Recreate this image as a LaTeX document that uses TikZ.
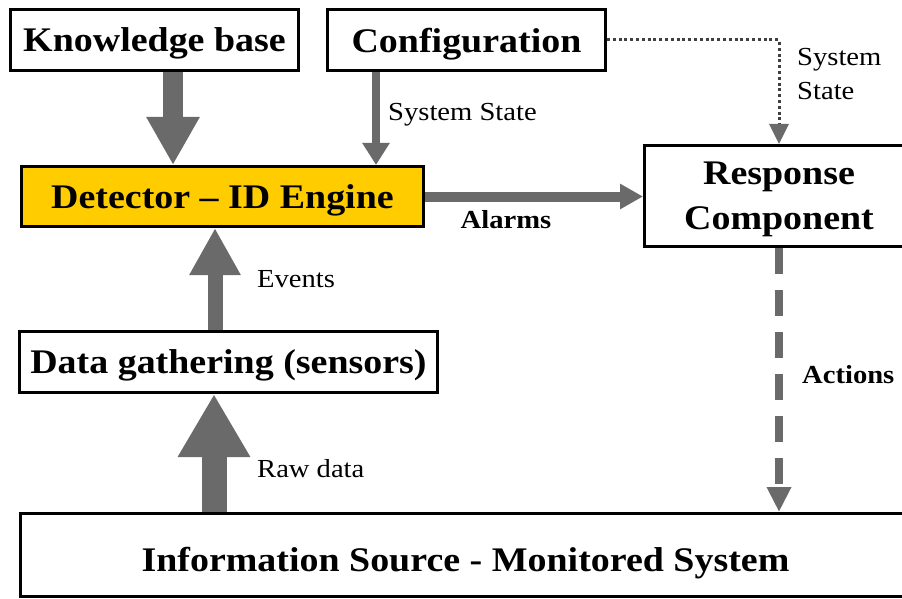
\documentclass[tikz,border=0pt]{standalone}
\usepackage{fontspec}
\setmainfont{Liberation Serif}[FakeStretch=1.1]
\usepackage{tikz}
\usetikzlibrary{arrows.meta}
\definecolor{arrowgray}{RGB}{106,106,106}
\definecolor{enginegold}{RGB}{255,204,0}

\begin{document}
\begin{tikzpicture}[x=1pt,y=-1pt,
        box/.style={draw,line width=3pt,inner sep=2pt,text depth=0pt,align=center,font=\fontsize{34.5}{45}\selectfont\bfseries},
        lbl/.style={inner sep=0pt,align=left,font=\fontsize{26}{34}\selectfont},
        boldlbl/.style={inner sep=0pt,font=\fontsize{26}{34}\selectfont\bfseries},
        flow/.style={draw=arrowgray,line width=#1}]
            \useasboundingbox (0,0) rectangle (902,599);
            % boxes
            \node[box,minimum width=288pt,minimum height=61pt] (kb) at (154.5,40) {Knowledge base};
            \node[box,minimum width=278pt,minimum height=61pt] (conf) at (466.5,40) {Configuration};
            \node[box,fill=enginegold,minimum width=402pt,minimum height=60pt] (det) at (222.5,196.5) {Detector -- ID Engine};
            \node[box,minimum width=269pt,minimum height=101pt] (resp) at (779,196) {Response\\Component};
            \node[box,minimum width=418pt,minimum height=61pt] (dg) at (228.5,362) {Data gathering (sensors)};
            \node[box,text height=33pt,minimum width=890pt,minimum height=83pt] (info) at (465.5,555) {Information Source - Monitored System};
            % arrows
            \coordinate (kbout) at ([xshift=18.5pt]kb.south);
            \coordinate (confout) at ([xshift=-90.5pt]conf.south);
            \coordinate (evout) at ([xshift=-13.5pt]dg.north);
            \coordinate (rawout) at ([xshift=-251.5pt]info.north);
            \draw[flow=20pt,-{Triangle[width=50pt,length=48pt]}] (kbout) -- (kbout |- det.north);
            \draw[flow=8pt,-{Triangle[width=26pt,length=22pt]}] (confout) -- (confout |- det.north);
            \draw[draw=black!75,line width=3pt,dash pattern=on 3pt off 2.8pt,-{Triangle[width=19pt,length=20pt,color=arrowgray]}] (conf.east) -| (resp.north);
            \draw[flow=10pt,-{Triangle[width=24pt,length=23pt]}] (det.east) -- (det.east -| resp.west);
            \draw[flow=8pt,dash pattern=on 26pt off 16pt,-{Triangle[width=23pt,length=25pt]}] (resp.south) -- (resp.south |- info.north);
            \draw[flow=15pt,-{Triangle[width=48pt,length=47pt]}] (evout) -- (evout |- det.south);
            \draw[flow=25pt,-{Triangle[width=68pt,length=63pt]}] (rawout) -- (rawout |- dg.south);
            % labels
            \node[lbl,anchor=west] (sysl) at (388,115) {System State};
            \node[lbl,anchor=west] (sysr) at (797,74) {System\\State};
            \node[boldlbl] (alarms) at (506,220) {Alarms};
            \node[boldlbl,anchor=west] (actions) at (802,375) {Actions};
            \node[lbl,anchor=west] (events) at (257,279) {Events};
            \node[lbl,anchor=west] (raw) at (257,469) {Raw data};
        \end{tikzpicture}
\end{document}
